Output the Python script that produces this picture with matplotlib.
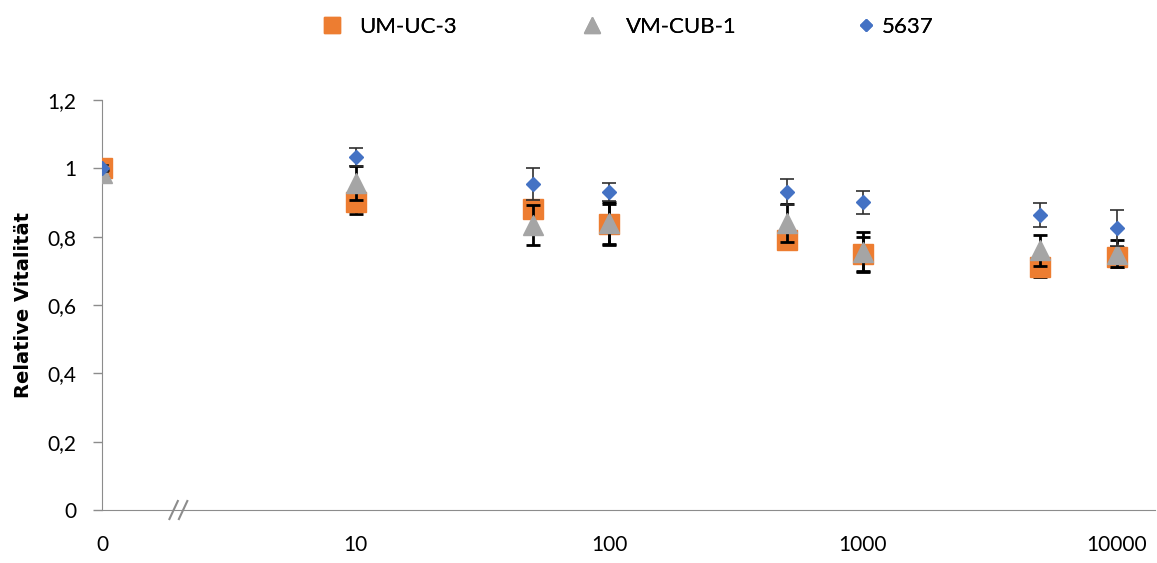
import numpy as np
import matplotlib.pyplot as plt
from matplotlib.lines import Line2D

plt.rcParams['font.family'] = ['Lato', 'DejaVu Sans']

# concentrations (0 is drawn one decade below 10, as on a broken log axis)
conc = [0, 10, 50, 100, 500, 1000, 5000, 10000]
tick_vals = [0, 10, 100, 1000, 10000]
tick_labels = ['0', '10', '100', '1000', '10000']

umuc3 = [1.0, 0.90, 0.881, 0.837, 0.79, 0.749, 0.711, 0.740]
umuc3_err = [0.01, 0.035, 0.02, 0.06, 0.02, 0.05, 0.03, 0.03]
vmcub1 = [0.985, 0.957, 0.834, 0.84, 0.84, 0.755, 0.76, 0.75]
vmcub1_err = [0.01, 0.05, 0.058, 0.06, 0.055, 0.058, 0.045, 0.04]
c5637 = [1.0, 1.033, 0.954, 0.931, 0.931, 0.90, 0.863, 0.825]
c5637_err = [0.01, 0.027, 0.047, 0.026, 0.038, 0.033, 0.036, 0.053]


def xpos(v):
    return np.where(np.array(v) == 0, 1, np.array(v))


fig = plt.figure(figsize=(11.57, 5.63), dpi=100)
ax = fig.add_axes([0.0882, 0.0941, 0.9098, 0.7283])

x = xpos(conc)
ax.errorbar(x, umuc3, yerr=umuc3_err, fmt='s', color='#ED7D31', ms=13.7,
            ecolor='black', elinewidth=2, capsize=5, capthick=2, zorder=3)
ax.errorbar(x, vmcub1, yerr=vmcub1_err, fmt='^', color='#A5A5A5', ms=13.7,
            ecolor='black', elinewidth=2, capsize=5, capthick=2, zorder=4)
ax.errorbar(x, c5637, yerr=c5637_err, fmt='D', color='#4472C4', ms=7.6,
            ecolor='#303030', elinewidth=1.2, capsize=5, capthick=1.2, zorder=5)

ax.set_xscale('log')
ax.set_xlim(1, 10 ** 4.15)
ax.set_ylim(0, 1.2)
ax.set_xticks(xpos(tick_vals))
ax.set_xticklabels(tick_labels)
ax.xaxis.set_minor_locator(plt.NullLocator())
ax.set_yticks([0, 0.2, 0.4, 0.6, 0.8, 1.0, 1.2])
ax.set_yticklabels(['0', '0,2', '0,4', '0,6', '0,8', '1', '1,2'])

for s in ['top', 'right']:
    ax.spines[s].set_visible(False)
ax.spines['left'].set_color('#8c8c8c')
ax.spines['bottom'].set_color('#8c8c8c')
ax.tick_params(axis='x', length=0, pad=18, labelsize=15, colors='#000000')
ax.tick_params(axis='y', length=6.5, width=1, color='#8c8c8c', labelsize=15, pad=12)
ax.set_ylabel('Relative Vitalität', fontsize=14, fontweight='bold',
              family=['DejaVu Sans'], labelpad=10)

# axis break marks
for xa in [0.068, 0.077]:
    ax.plot([xa - 0.004, xa + 0.004], [-0.022, 0.022], transform=ax.transAxes,
            color='#8c8c8c', lw=1.5, clip_on=False, zorder=6)

# legend: one entry per series, spread like the original
entries = [
    (Line2D([], [], ls='', marker='s', color='#ED7D31', ms=11), 'UM-UC-3', 0.2774, 0.72),
    (Line2D([], [], ls='', marker='^', color='#A5A5A5', ms=11), 'VM-CUB-1', 0.5022, 1.0),
    (Line2D([], [], ls='', marker='D', color='#4472C4', ms=6), '5637', 0.739, 0.2),
]
for h, lab, xa, tp in entries:
    leg = fig.legend([h], [lab], loc='center left', bbox_to_anchor=(xa, 0.952),
                     frameon=False, fontsize=16, handlelength=1,
                     handletextpad=tp, borderpad=0, borderaxespad=0)
    fig.add_artist(leg)

fig.savefig('out.png', dpi=100)
